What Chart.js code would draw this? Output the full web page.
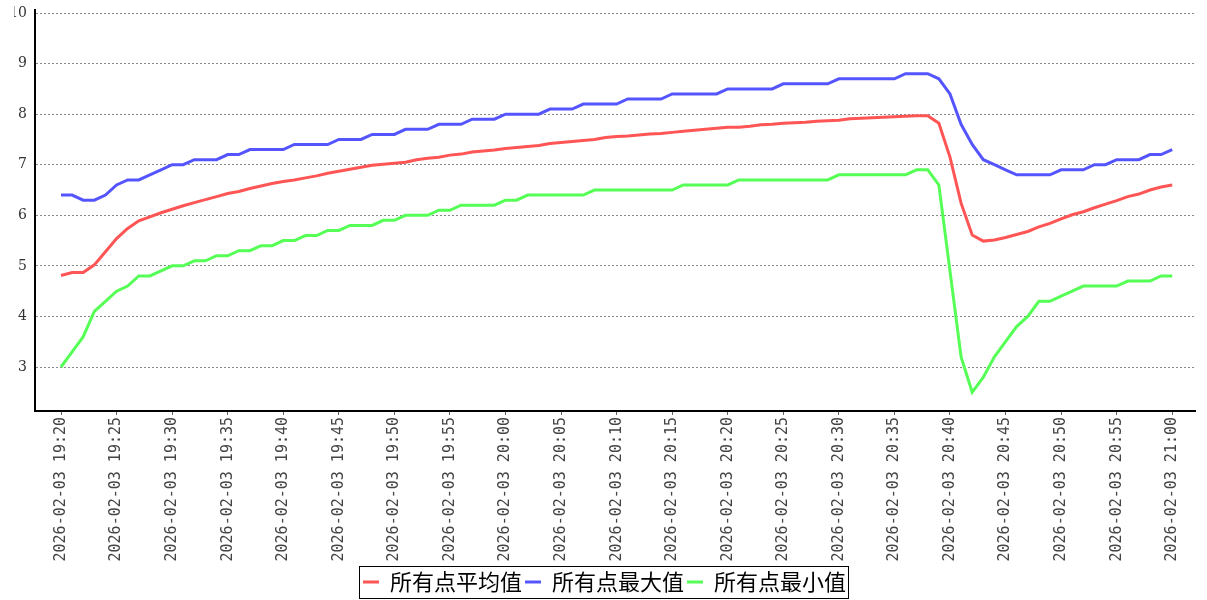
<!DOCTYPE html>
<html>
<head>
<meta charset="utf-8">
<title>所有点统计</title>
<script src="https://cdn.jsdelivr.net/npm/chart.js@4.4.1/dist/chart.umd.min.js"></script>
<style>
    html, body { margin: 0; padding: 0; background: #fff; }
    #wrap { width: 1207px; height: 600px; }
</style>
</head>
<body>
<div id="wrap"><canvas id="trend-chart" width="1207" height="600"></canvas></div>
<script>
// x tick labels, one every 5 minutes (minute offsets from 19:20)
var tickMinutes = [0, 5, 10, 15, 20, 25, 30, 35, 40, 45, 50, 55, 60, 65, 70, 75, 80, 85, 90, 95, 100];
var tickLabels = [
    "2026-02-03 19:20", "2026-02-03 19:25", "2026-02-03 19:30", "2026-02-03 19:35",
    "2026-02-03 19:40", "2026-02-03 19:45", "2026-02-03 19:50", "2026-02-03 19:55",
    "2026-02-03 20:00", "2026-02-03 20:05", "2026-02-03 20:10", "2026-02-03 20:15",
    "2026-02-03 20:20", "2026-02-03 20:25", "2026-02-03 20:30", "2026-02-03 20:35",
    "2026-02-03 20:40", "2026-02-03 20:45", "2026-02-03 20:50", "2026-02-03 20:55",
    "2026-02-03 21:00",
];
var yTicks = [3, 4, 5, 6, 7, 8, 9, 10];

var seriesNames = ["所有点平均值", "所有点最大值", "所有点最小值"];

// one value per minute, 19:20 .. 21:00
var avgValues = [
    4.81, 4.87, 4.87, 5.02, 5.28, 5.54, 5.74, 5.89, 5.97, 6.05,
    6.12, 6.19, 6.25, 6.31, 6.37, 6.43, 6.47, 6.53, 6.58, 6.63,
    6.67, 6.70, 6.74, 6.78, 6.83, 6.87, 6.91, 6.95, 6.99, 7.01,
    7.03, 7.05, 7.10, 7.13, 7.15, 7.19, 7.21, 7.25, 7.27, 7.29,
    7.32, 7.34, 7.36, 7.38, 7.42, 7.44, 7.46, 7.48, 7.50, 7.54,
    7.56, 7.57, 7.59, 7.61, 7.62, 7.64, 7.66, 7.68, 7.70, 7.72,
    7.74, 7.74, 7.76, 7.79, 7.80, 7.82, 7.83, 7.84, 7.86, 7.87,
    7.88, 7.91, 7.92, 7.93, 7.94, 7.95, 7.96, 7.97, 7.97, 7.82,
    7.15, 6.24, 5.61, 5.49, 5.51, 5.56, 5.62, 5.68, 5.77, 5.84,
    5.93, 6.01, 6.07, 6.15, 6.22, 6.29, 6.37, 6.42, 6.50, 6.56,
    6.60,
];
var maxValues = [
    6.4, 6.4, 6.3, 6.3, 6.4, 6.6, 6.7, 6.7, 6.8, 6.9,
    7.0, 7.0, 7.1, 7.1, 7.1, 7.2, 7.2, 7.3, 7.3, 7.3,
    7.3, 7.4, 7.4, 7.4, 7.4, 7.5, 7.5, 7.5, 7.6, 7.6,
    7.6, 7.7, 7.7, 7.7, 7.8, 7.8, 7.8, 7.9, 7.9, 7.9,
    8.0, 8.0, 8.0, 8.0, 8.1, 8.1, 8.1, 8.2, 8.2, 8.2,
    8.2, 8.3, 8.3, 8.3, 8.3, 8.4, 8.4, 8.4, 8.4, 8.4,
    8.5, 8.5, 8.5, 8.5, 8.5, 8.6, 8.6, 8.6, 8.6, 8.6,
    8.7, 8.7, 8.7, 8.7, 8.7, 8.7, 8.8, 8.8, 8.8, 8.7,
    8.4, 7.8, 7.4, 7.1, 7.0, 6.9, 6.8, 6.8, 6.8, 6.8,
    6.9, 6.9, 6.9, 7.0, 7.0, 7.1, 7.1, 7.1, 7.2, 7.2,
    7.3,
];
var minValues = [
    3.0, 3.3, 3.6, 4.1, 4.3, 4.5, 4.6, 4.8, 4.8, 4.9,
    5.0, 5.0, 5.1, 5.1, 5.2, 5.2, 5.3, 5.3, 5.4, 5.4,
    5.5, 5.5, 5.6, 5.6, 5.7, 5.7, 5.8, 5.8, 5.8, 5.9,
    5.9, 6.0, 6.0, 6.0, 6.1, 6.1, 6.2, 6.2, 6.2, 6.2,
    6.3, 6.3, 6.4, 6.4, 6.4, 6.4, 6.4, 6.4, 6.5, 6.5,
    6.5, 6.5, 6.5, 6.5, 6.5, 6.5, 6.6, 6.6, 6.6, 6.6,
    6.6, 6.7, 6.7, 6.7, 6.7, 6.7, 6.7, 6.7, 6.7, 6.7,
    6.8, 6.8, 6.8, 6.8, 6.8, 6.8, 6.8, 6.9, 6.9, 6.6,
    4.9, 3.2, 2.5, 2.8, 3.2, 3.5, 3.8, 4.0, 4.3, 4.3,
    4.4, 4.5, 4.6, 4.6, 4.6, 4.6, 4.7, 4.7, 4.7, 4.8,
    4.8,
];

function toPoints(values) {
    return values.map(function (v, i) {
        return { x: i, y: v };
    });
}

// draws the thin black frame round the legend items
var legendFrame = {
    id: "legendFrame",
    afterDraw: function (chart) {
        var boxes = chart.legend && chart.legend.legendHitBoxes;
        if (!boxes || !boxes.length) {
            return;
        }
        var left = Infinity, right = -Infinity, top = Infinity, bottom = -Infinity;
        boxes.forEach(function (b) {
            left = Math.min(left, b.left);
            right = Math.max(right, b.left + b.width);
            top = Math.min(top, b.top);
            bottom = Math.max(bottom, b.top + b.height);
        });
        var ctx = chart.ctx;
        ctx.save();
        ctx.strokeStyle = "#000";
        ctx.lineWidth = 1;
        ctx.strokeRect(
            Math.round(left - 4) + 0.5,
            Math.round(top - 5) + 0.5,
            Math.round(right - left + 6),
            Math.round(bottom - top + 10)
        );
        ctx.restore();
    },
};

function initTrendChart() {
    var lineStyle = {
        borderWidth: 3,
        pointRadius: 0,
        pointHoverRadius: 0,
        tension: 0,
        fill: false,
    };

    var datasets = [
        Object.assign({ label: seriesNames[0], data: toPoints(avgValues), borderColor: "#ff5555", backgroundColor: "#ff5555" }, lineStyle),
        Object.assign({ label: seriesNames[1], data: toPoints(maxValues), borderColor: "#5555ff", backgroundColor: "#5555ff" }, lineStyle),
        Object.assign({ label: seriesNames[2], data: toPoints(minValues), borderColor: "#55ff55", backgroundColor: "#55ff55" }, lineStyle),
    ];

    var ctx = document.getElementById("trend-chart").getContext("2d");
    var trendChart = new Chart(ctx, {
        type: "line",
        data: { datasets: datasets },
        plugins: [legendFrame],
        options: {
            responsive: false,
            animation: false,
            devicePixelRatio: 1,
            layout: {
                padding: { left: 14, right: 12, top: 10, bottom: -3 },
            },
            plugins: {
                tooltip: { enabled: false },
                legend: {
                    position: "bottom",
                    labels: {
                        usePointStyle: true,
                        pointStyle: "line",
                        pointStyleWidth: 16,
                        padding: 3,
                        color: "#000",
                        font: { family: "'Noto Sans CJK SC'", size: 22 },
                    },
                },
            },
            scales: {
                x: {
                    type: "linear",
                    min: -2.34,
                    max: 102.05,
                    afterBuildTicks: function (axis) {
                        axis.ticks = tickMinutes.map(function (m) {
                            return { value: m };
                        });
                    },
                    afterFit: function (axis) {
                        axis.height = 157;
                        axis.paddingLeft = 0;
                        axis.paddingRight = 0;
                    },
                    grid: {
                        drawOnChartArea: false,
                        drawTicks: true,
                        tickLength: 4,
                        tickColor: "#666",
                    },
                    border: { color: "#000", width: 2 },
                    ticks: {
                        autoSkip: false,
                        minRotation: 90,
                        maxRotation: 90,
                        padding: 2,
                        color: "#444",
                        font: { family: "'DejaVu Sans Mono'", size: 15 },
                        callback: function (value, index) {
                            return tickLabels[index];
                        },
                    },
                },
                y: {
                    min: 2.13,
                    max: 10.06,
                    afterBuildTicks: function (axis) {
                        axis.ticks = yTicks.map(function (v) {
                            return { value: v };
                        });
                    },
                    afterFit: function (axis) {
                        axis.width = 21;
                        // keep the "10" label from pushing the plot down
                        axis.paddingTop = 0;
                        axis.paddingBottom = 0;
                    },
                    grid: {
                        color: "#888",
                        lineWidth: 1,
                        drawTicks: false,
                    },
                    border: { color: "#000", width: 2, dash: [2, 2] },
                    ticks: {
                        padding: 8,
                        color: "#333",
                        font: { family: "'DejaVu Serif'", size: 14 },
                    },
                },
            },
        },
    });
}

initTrendChart();
</script>
</body>
</html>
